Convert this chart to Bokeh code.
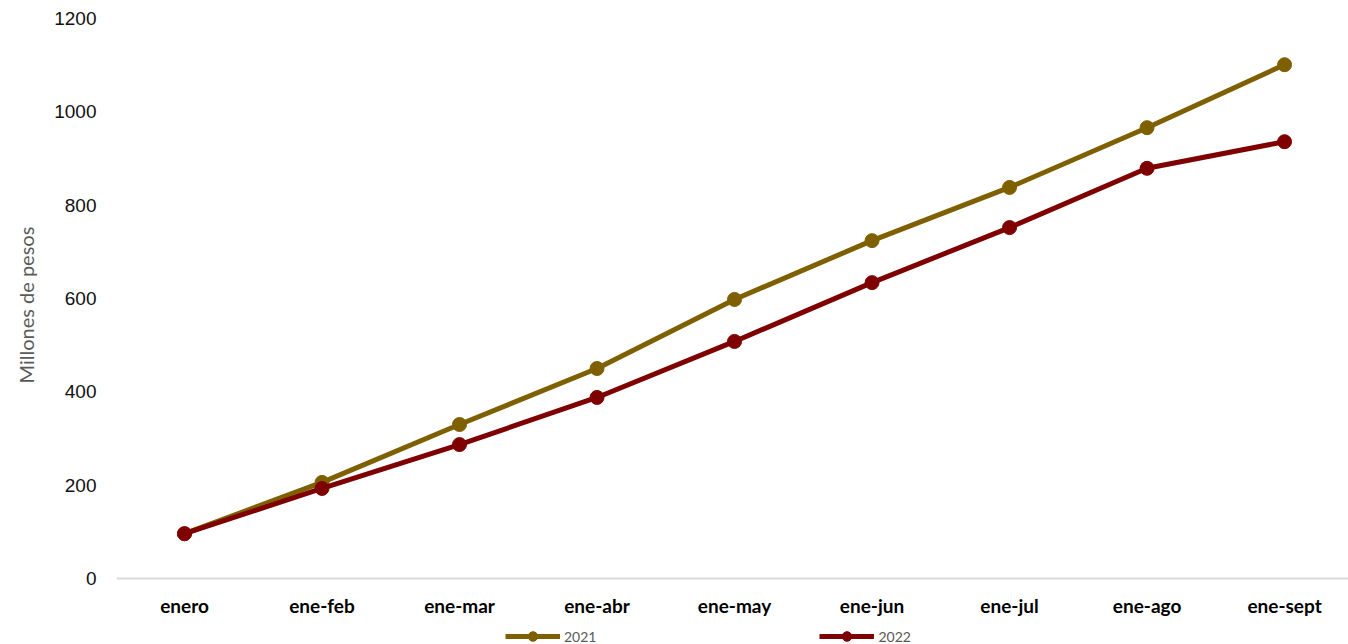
from bokeh.plotting import figure
from bokeh.models import Range1d, FixedTicker, Legend, LegendItem, ColumnDataSource, Span, Title
from bokeh.core.properties import value
from bokeh.embed import file_html
from bokeh.resources import INLINE

categories = ["enero", "ene-feb", "ene-mar", "ene-abr", "ene-may", "ene-jun", "ene-jul", "ene-ago", "ene-sept"]
values_2021 = [96, 206, 330, 450, 598, 724, 838, 966, 1101]
values_2022 = [96, 193, 287, 388, 508, 634, 752, 879, 936]
y_ticks = [0, 200, 400, 600, 800, 1000, 1200]

xs = list(range(len(categories)))

# frame spans the full lower area so that the legend (drawn inside the frame) is visible
p = figure(width=1348, height=644, output_backend="svg", toolbar_location=None,
           x_range=Range1d(-0.4945, 8.465), y_range=Range1d(-141.4, 1200),
           min_border_left=116, min_border_right=0, min_border_top=18, min_border_bottom=0)
p.outline_line_color = None
p.xgrid.visible = False
p.ygrid.visible = False
p.xaxis.visible = False
p.background_fill_color = "white"
p.border_fill_color = "white"

# category axis baseline at y = 0
p.add_layout(Span(location=0, dimension="width", line_color="#D9D9D9", line_width=2))

src21 = ColumnDataSource(dict(x=xs, y=values_2021))
src22 = ColumnDataSource(dict(x=xs, y=values_2022))

l21 = p.line("x", "y", source=src21, line_color="#7F6000", line_width=5)
s21 = p.scatter("x", "y", source=src21, size=14, fill_color="#7F6000", line_color="#7F6000")
l22 = p.line("x", "y", source=src22, line_color="#7F0000", line_width=5)
s22 = p.scatter("x", "y", source=src22, size=14, fill_color="#7F0000", line_color="#7F0000")

# category labels
lab_src = ColumnDataSource(dict(x=xs, y=[0] * len(xs), t=categories))
p.text("x", "y", text="t", source=lab_src, y_offset=27, text_align="center",
       text_baseline="middle", text_font=value("Lato"), text_font_style="bold",
       text_font_size="19px", text_color="#000000")

# y axis
p.yaxis.ticker = FixedTicker(ticks=y_ticks)
p.yaxis.axis_line_color = None
p.yaxis.major_tick_line_color = None
p.yaxis.minor_tick_line_color = None
p.yaxis.major_label_standoff = 14
p.yaxis.major_label_text_font = "Liberation Sans"
p.yaxis.major_label_text_font_size = "19px"
p.yaxis.major_label_text_color = "#111111"

ytitle = Title(text="Millones de pesos", align="left", offset=261, standoff=24,
               vertical_align="top",
               text_font="Lato", text_font_style="normal", text_font_size="20px",
               text_color="#595959")
p.add_layout(ytitle, "left")

legend = Legend(items=[LegendItem(label="2021", renderers=[l21, s21]),
                       LegendItem(label="2022", renderers=[l22, s22])],
                location=(389, -4), orientation="horizontal")
legend.glyph_width = 55
legend.glyph_height = 24
legend.label_standoff = 4
legend.label_width = 30
legend.spacing = 223
legend.padding = 0
legend.margin = 0
legend.border_line_alpha = 0
legend.background_fill_alpha = 0
legend.label_text_font = "Lato"
legend.label_text_font_size = "14px"
legend.label_text_color = "#595959"
p.add_layout(legend, "center")

open("out.html", "w").write(file_html(p, INLINE))
